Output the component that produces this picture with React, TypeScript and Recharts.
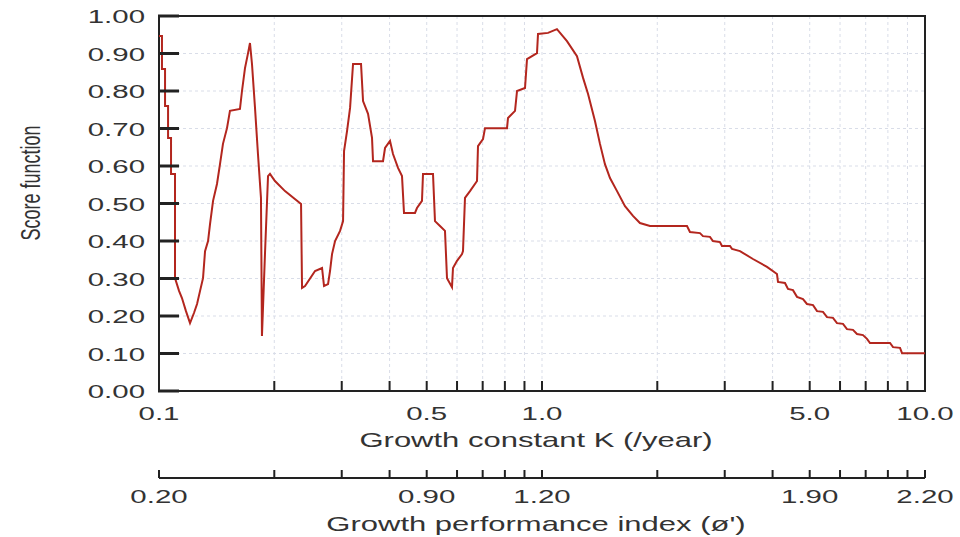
import React from 'react';
import { LineChart, Line, XAxis, YAxis, CartesianGrid, ReferenceArea, ReferenceLine } from 'recharts';

// Growth constant K (/year) and score function, in four stretches
const k1 = [0.100, 0.1018, 0.1018, 0.1037, 0.1037, 0.1056, 0.1056, 0.1075, 0.1075, 0.1101, 0.1101, 0.1128, 0.1148, 0.1176, 0.1205, 0.1234, 0.1257, 0.1280, 0.1303, 0.1319, 0.1343, 0.1359, 0.1384, 0.1417, 0.1443, 0.1469, 0.1505, 0.1532, 0.1627, 0.1647, 0.1677, 0.1708, 0.1728, 0.1749, 0.1781, 0.1813, 0.1846, 0.1857, 0.1891, 0.1926, 0.1949, 0.2008, 0.2133, 0.2349];
const s1 = [0.947, 0.947, 0.859, 0.859, 0.760, 0.760, 0.675, 0.675, 0.579, 0.579, 0.301, 0.267, 0.248, 0.213, 0.181, 0.208, 0.232, 0.267, 0.301, 0.373, 0.400, 0.445, 0.507, 0.552, 0.605, 0.659, 0.701, 0.747, 0.752, 0.800, 0.861, 0.901, 0.928, 0.872, 0.755, 0.632, 0.515, 0.147, 0.365, 0.573, 0.579, 0.560, 0.533, 0.499];

const k2 = [0.2363, 0.2406, 0.2555, 0.2665, 0.2697, 0.2763, 0.2796, 0.2830, 0.2882, 0.2970, 0.3024, 0.3042, 0.3097, 0.3154, 0.3211, 0.3369, 0.3410, 0.3514, 0.3599, 0.3621, 0.3845, 0.3892, 0.4010, 0.4083, 0.4208, 0.4310, 0.4362, 0.4660, 0.4716, 0.4860, 0.4890, 0.5193, 0.5255, 0.5416, 0.5581, 0.5649, 0.5821, 0.5856, 0.5999, 0.6182, 0.6219, 0.6294, 0.6486, 0.6766, 0.6806, 0.7014, 0.7099, 0.8103, 0.8152, 0.8503, 0.8606, 0.9029, 0.9138, 0.9704, 0.9763, 1.037, 1.094];
const s2 = [0.275, 0.280, 0.320, 0.328, 0.280, 0.285, 0.320, 0.365, 0.400, 0.427, 0.453, 0.640, 0.693, 0.755, 0.872, 0.872, 0.773, 0.739, 0.675, 0.613, 0.613, 0.648, 0.667, 0.632, 0.595, 0.573, 0.475, 0.475, 0.488, 0.507, 0.579, 0.579, 0.453, 0.440, 0.427, 0.301, 0.277, 0.328, 0.347, 0.365, 0.373, 0.515, 0.533, 0.560, 0.653, 0.672, 0.701, 0.701, 0.728, 0.747, 0.800, 0.808, 0.885, 0.901, 0.952, 0.955, 0.965];

const k3 = [1.162, 1.234, 1.280, 1.319, 1.375, 1.417, 1.460, 1.505, 1.570, 1.647, 1.728, 1.802, 1.914];
const s3 = [0.933, 0.893, 0.835, 0.792, 0.720, 0.659, 0.605, 0.568, 0.533, 0.493, 0.467, 0.448, 0.440];

const k4 = [2.391, 2.434, 2.585, 2.632, 2.745, 2.795, 2.915, 2.950, 3.096, 3.134, 3.288, 3.555, 3.868, 4.107, 4.132, 4.309, 4.388, 4.522, 4.632, 4.802, 4.918, 5.101, 5.225, 5.416, 5.548, 5.751, 5.891, 6.108, 6.256, 6.486, 6.644, 6.888, 7.056, 7.184, 8.103, 8.251, 8.606, 8.710, 10.00];
const s4 = [0.440, 0.424, 0.421, 0.413, 0.411, 0.400, 0.397, 0.387, 0.387, 0.379, 0.373, 0.352, 0.331, 0.312, 0.291, 0.288, 0.272, 0.269, 0.251, 0.245, 0.232, 0.229, 0.213, 0.211, 0.197, 0.195, 0.181, 0.179, 0.165, 0.163, 0.152, 0.149, 0.139, 0.128, 0.128, 0.117, 0.115, 0.101, 0.101];

// Axis ticks and labels
const kTicks = [0.1, 0.2, 0.3, 0.4, 0.5, 0.6, 0.7, 0.8, 0.9, 1, 2, 3, 4, 5, 6, 7, 8, 9, 10];
const kLabelValues = [0.1, 0.5, 1, 5, 10];
const kLabelTexts = ['0.1', '0.5', '1.0', '5.0', '10.0'];
const phiLabelTexts = ['0.20', '0.90', '1.20', '1.90', '2.20'];
const yTicks = [0, 0.1, 0.2, 0.3, 0.4, 0.5, 0.6, 0.7, 0.8, 0.9, 1];
const yInnerTicks = [0.1, 0.2, 0.3, 0.4, 0.5, 0.6, 0.7, 0.8, 0.9];

const kAll = [...k1, ...k2, ...k3, ...k4];
const sAll = [...s1, ...s2, ...s3, ...s4];
const data = kAll.map((k, i) => ({ k, score: sAll[i] }));

const W = 960;
const H = 537;
const M = { top: 16, right: 35, bottom: 0, left: 0 };
const Y_W = 159;
const K_AXIS_H = 87;
const PHI_AXIS_H = 59;
const PLOT_LEFT = M.left + Y_W;
const PLOT_BOTTOM = H - M.bottom - K_AXIS_H - PHI_AXIS_H;
const PHI_Y = PLOT_BOTTOM + K_AXIS_H;
// inward y-tick mark length, expressed on the log K axis (about 20px)
const Y_TICK_END_K = 0.1128;

const FONT = "'Liberation Sans', Arial, sans-serif";
const SX = 1.55;
const TEXT = '#333';
const AXIS = '#222';

function SText({ x, y, anchor, size, children }: any) {
  return (
    <text
      transform={`translate(${x},${y}) scale(${SX},1)`}
      textAnchor={anchor}
      fontFamily={FONT}
      fontSize={size}
      fill={TEXT}
    >
      {children}
    </text>
  );
}

function labelIndex(v: number) {
  return kLabelValues.findIndex((t) => Math.abs(t - Number(v)) < 1e-9);
}

function KTick(props: any) {
  const { x, payload } = props;
  const i = labelIndex(payload.value);
  return (
    <g>
      <line x1={x} x2={x} y1={PLOT_BOTTOM} y2={PLOT_BOTTOM - 10} stroke={AXIS} strokeWidth={2} />
      {i >= 0 && (
        <SText x={x} y={PLOT_BOTTOM + 29} anchor="middle" size={19}>
          {kLabelTexts[i]}
        </SText>
      )}
    </g>
  );
}

function PhiTick(props: any) {
  const { x, payload } = props;
  const i = labelIndex(payload.value);
  return (
    <g>
      <line x1={x} x2={x} y1={PHI_Y} y2={PHI_Y - 8} stroke={AXIS} strokeWidth={2} />
      {i >= 0 && (
        <SText x={x} y={PHI_Y + 25} anchor="middle" size={19}>
          {phiLabelTexts[i]}
        </SText>
      )}
    </g>
  );
}

function YTick(props: any) {
  const { y, payload } = props;
  const v = Number(payload.value);
  return (
    <g>
      <line x1={PLOT_LEFT - 1} x2={PLOT_LEFT + 20} y1={y} y2={y} stroke={AXIS} strokeWidth={3} />
      <SText x={145} y={y + 7} anchor="end" size={19}>
        {v.toFixed(2)}
      </SText>
    </g>
  );
}

function KTitle() {
  return (
    <SText x={536} y={PLOT_BOTTOM + 56} anchor="middle" size={20}>
      Growth constant K (/year)
    </SText>
  );
}

function PhiTitle() {
  return (
    <SText x={536} y={PHI_Y + 53} anchor="middle" size={20}>
      Growth performance index (ø')
    </SText>
  );
}

function YTitle() {
  return (
    <text
      transform={`translate(40,183) rotate(-90) scale(1,${SX})`}
      textAnchor="middle"
      fontFamily={FONT}
      fontSize={18}
      fill={TEXT}
    >
      Score function
    </text>
  );
}

export default function App() {
  return (
    <div style={{ position: 'absolute', left: 0, top: 0, width: W, height: H, background: '#fff' }}>
      <LineChart width={W} height={H} data={data} margin={M}>
        <CartesianGrid stroke="#d9dde8" strokeDasharray="3 3" />
        <XAxis
          dataKey="k"
          type="number"
          scale="log"
          domain={[0.1, 10]}
          ticks={kTicks}
          interval={0}
          height={K_AXIS_H}
          axisLine={false}
          tickLine={false}
          tick={KTick}
          label={<KTitle />}
        />
        <XAxis
          xAxisId="phi"
          dataKey="k"
          type="number"
          scale="log"
          domain={[0.1, 10]}
          ticks={kTicks}
          interval={0}
          height={PHI_AXIS_H}
          axisLine={{ stroke: AXIS, strokeWidth: 2 }}
          tickLine={false}
          tick={PhiTick}
          label={<PhiTitle />}
        />
        <YAxis
          type="number"
          domain={[0, 1]}
          ticks={yTicks}
          interval={0}
          width={Y_W}
          axisLine={false}
          tickLine={false}
          tick={YTick}
          label={<YTitle />}
        />
        {yInnerTicks.map((v) => (
          <ReferenceLine
            key={v}
            segment={[{ x: 0.1, y: v }, { x: Y_TICK_END_K, y: v }]}
            stroke={AXIS}
            strokeWidth={2}
            ifOverflow="visible"
          />
        ))}
        <ReferenceArea
          x1={0.1}
          x2={10}
          y1={0}
          y2={1}
          fill="none"
          fillOpacity={0}
          stroke={AXIS}
          strokeWidth={2}
          ifOverflow="visible"
        />
        <Line
          xAxisId="phi"
          dataKey="score"
          stroke="none"
          dot={false}
          activeDot={false}
          isAnimationActive={false}
        />
        <Line
          type="linear"
          dataKey="score"
          stroke="#b3261e"
          strokeWidth={2}
          dot={false}
          activeDot={false}
          isAnimationActive={false}
        />
      </LineChart>
    </div>
  );
}
